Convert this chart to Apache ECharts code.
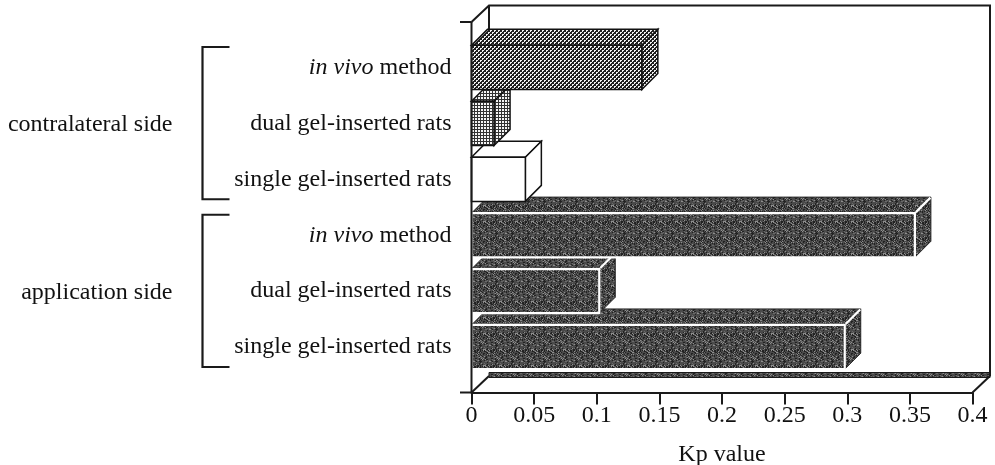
<!DOCTYPE html>
<html>
<head>
<meta charset="utf-8">
<script src="https://cdn.jsdelivr.net/npm/echarts@6/dist/echarts.min.js"></script>
<style>
  html, body { margin: 0; padding: 0; background: #fff; }
  #chart { width: 995px; height: 465px; }
</style>
</head>
<body>
<div id="chart"></div>
<script>
// ---- data ----
const groups = ['contralateral side', 'application side'];
const groupRanges = [[0, 2], [3, 5]];          // category indices covered by each group
const categories = [
  'in vivo method', 'dual gel-inserted rats', 'single gel-inserted rats',
  'in vivo method', 'dual gel-inserted rats', 'single gel-inserted rats'
];
const kpValues = [0.136, 0.018, 0.043, 0.354, 0.102, 0.298];
const xMin = 0, xMax = 0.4, xStep = 0.05;
const axisTitle = 'Kp value';

// ---- styling ----
const FONT = '"Liberation Serif", "Times New Roman", serif';
const FS = 24;
const INK = '#1a1a1a';
const BAR_DEPTH = 16;       // oblique depth of each bar (px)
const BOX_DX = 17.5, BOX_DY = 16.5;  // oblique depth of the frame box
const PAD = 17.5;           // frame extends this far past the category band

function tile(size, paint) {
  const c = document.createElement('canvas');
  c.width = c.height = size;
  const g = c.getContext('2d');
  paint(g, size);
  return { image: c, repeat: 'repeat' };
}
// dense dotted screen
const dotsFill = tile(4, (g) => {
  g.fillStyle = '#1e1e1e'; g.fillRect(0, 0, 4, 4);
  g.fillStyle = '#f2f2f2';
  g.fillRect(0, 0, 2, 1); g.fillRect(0, 1, 1, 1);
  g.fillRect(2, 2, 2, 1); g.fillRect(2, 3, 1, 1);
});
// fine grid
const gridFill = tile(3, (g) => {
  g.fillStyle = '#f5f5f5'; g.fillRect(0, 0, 3, 3);
  g.fillStyle = '#333'; g.fillRect(0, 0, 3, 1); g.fillRect(0, 0, 1, 3);
});
// dark stipple (fixed hashed tile)
const speckleFill = tile(16, (g, n) => {
  g.fillStyle = '#4a4a4a'; g.fillRect(0, 0, n, n);
  for (let y = 0; y < n; y++) {
    for (let x = 0; x < n; x++) {
      let h = ((x + 1) * 73856093) ^ ((y + 1) * 19349663);
      h = (h ^ (h >>> 13)) >>> 0;
      const k = h % 9;
      if (k === 0) { g.fillStyle = '#8e8e8e'; g.fillRect(x, y, 1, 1); }
      else if (k === 1 || k === 2) { g.fillStyle = '#222'; g.fillRect(x, y, 1, 1); }
      else if (k === 3) { g.fillStyle = '#6a6a6a'; g.fillRect(x, y, 1, 1); }
    }
  }
});
const barFills = [dotsFill, gridFill, '#ffffff', speckleFill, speckleFill, speckleFill];
const barSolid = [false, false, false, true, true, true];

const chart = echarts.init(document.getElementById('chart'), null, { renderer: 'canvas' });

function line(points, stroke, width, z2) {
  return { type: 'polyline', z2: z2 || 0, shape: { points },
    style: { stroke, lineWidth: width, fill: null, lineJoin: 'miter' } };
}

function renderBar(params, api) {
  const i = params.dataIndex;
  const v = api.value(0), c = api.value(1);
  const p0 = api.coord([0, c]);
  const p1 = api.coord([v, c]);
  const band = api.size([0, 1])[1];
  const h = band * 0.79;
  const x0 = p0[0], x1 = p1[0];
  const yT = p1[1] - h / 2, yB = p1[1] + h / 2;
  const d = BAR_DEPTH;
  const fill = barFills[i];
  const base = (categories.length - i) * 10;
  const solid = barSolid[i];
  const edge = solid ? '#222' : '#111';
  const top = { type: 'polygon', z2: base + 1,
    shape: { points: [[x0, yT], [x0 + d, yT - d], [x1 + d, yT - d], [x1, yT]] },
    style: { fill, stroke: edge, lineWidth: solid ? 1 : 1.5, lineJoin: 'miter' } };
  const side = { type: 'polygon', z2: base + 2,
    shape: { points: [[x1, yT], [x1 + d, yT - d], [x1 + d, yB - d], [x1, yB]] },
    style: { fill, stroke: edge, lineWidth: solid ? 1 : 1.5, lineJoin: 'miter' } };
  const front = { type: 'polygon', z2: base + 3,
    shape: { points: [[x0, yT], [x1, yT], [x1, yB], [x0, yB]] },
    style: { fill, stroke: solid ? '#ffffff' : edge, lineWidth: solid ? 2.2 : 1.5, lineJoin: 'miter' } };
  const children = [top, side, front];
  if (solid) {
    children.push(line([[x1 + 1, yT - 1], [x1 + d - 0.5, yT - d + 0.5]], '#ffffff', 2.2, base + 4));
  }
  return { type: 'group', children };
}

function frameGeom(params) {
  const cs = params.coordSys;
  const x0 = cs.x, x1 = cs.x + cs.width;
  const fTop = cs.y - PAD, fBot = cs.y + cs.height + PAD;
  return { cs, x0, x1, fTop, fBot, bTop: fTop - BOX_DY, bBot: fBot - BOX_DY };
}

function renderFrameBack(params, api) {
  const g = frameGeom(params);
  const bx0 = g.x0 + BOX_DX, bx1 = g.x1 + BOX_DX;
  return { type: 'group', children: [
    { type: 'rect', shape: { x: bx0, y: g.bBot - 3.5, width: bx1 - bx0, height: 5 },
      style: { fill: speckleFill, stroke: INK, lineWidth: 1 } },
    line([[g.x0, g.fTop], [bx0, g.bTop], [bx1, g.bTop], [bx1, g.bBot]], INK, 2),
    line([[bx0, g.bTop], [bx0, g.cs.y]], INK, 2),
    line([[g.x0, g.fBot], [bx0, g.bBot]], INK, 2),
    line([[g.x1, g.fBot], [bx1, g.bBot]], INK, 2)
  ] };
}

function renderFrameFront(params, api) {
  const g = frameGeom(params);
  return { type: 'group', children: [
    line([[g.x0, g.fTop], [g.x0, g.fBot]], INK, 2),
    line([[g.x0 - 11.5, g.fTop], [g.x0, g.fTop]], INK, 2),
    line([[g.x0 - 11.5, g.fBot], [g.x0, g.fBot]], INK, 2)
  ] };
}

function renderGroup(params, api) {
  const i = params.dataIndex;
  const r = groupRanges[i];
  const band = api.size([0, 1])[1];
  const yA = api.coord([0, r[0]])[1] - band / 2 + 7.5;
  const yB = api.coord([0, r[1]])[1] + band / 2 - 8;
  const bx = 202.5, arm = 27;
  return { type: 'group', children: [
    line([[bx + arm, yA], [bx, yA], [bx, yB], [bx + arm, yB]], INK, 2.2),
    { type: 'text', x: 172.5, y: (yA + yB) / 2 + 2,
      style: { text: groups[i], fill: '#111', font: FS + 'px ' + FONT,
        align: 'right', verticalAlign: 'middle' } }
  ] };
}

const barData = kpValues.map((v, i) => [v, i]);

chart.setOption({
  animation: false,
  backgroundColor: '#ffffff',
  grid: { left: 471.5, right: 22.5, top: 39.5, bottom: 90, outerBoundsMode: 'none', containLabel: false },
  xAxis: {
    type: 'value', min: xMin, max: xMax, interval: xStep,
    position: 'bottom', offset: PAD,
    axisLine: { show: true, lineStyle: { color: INK, width: 2 } },
    axisTick: { show: true, length: 12, lineStyle: { color: INK, width: 2 } },
    axisLabel: { margin: 11, color: '#111', fontFamily: FONT, fontSize: FS, showMinLabel: true, showMaxLabel: true, hideOverlap: false },
    splitLine: { show: false },
    name: axisTitle, nameLocation: 'middle', nameGap: 50,
    nameTextStyle: { color: '#111', fontFamily: FONT, fontSize: FS }
  },
  yAxis: {
    type: 'category', data: categories, inverse: true,
    axisLine: { show: false }, axisTick: { show: false }, splitLine: { show: false },
    axisLabel: {
      margin: 20, color: '#111', fontFamily: FONT, fontSize: FS, interval: 0,
      formatter: function (name) {
        const m = /^in vivo (.*)$/.exec(name);
        return m ? '{it|in vivo} {rm|' + m[1] + '}' : '{rm|' + name + '}';
      },
      rich: {
        it: { fontStyle: 'italic', fontFamily: FONT, fontSize: FS, color: '#111' },
        rm: { fontFamily: FONT, fontSize: FS, color: '#111' }
      }
    }
  },
  series: [
    { type: 'custom', name: 'frame-back', z: 1, silent: true, renderItem: renderFrameBack,
      data: [[0, 0]], encode: { x: 0, y: 1 } },
    { type: 'custom', name: 'Kp', z: 2, renderItem: renderBar,
      data: barData, encode: { x: 0, y: 1 } },
    { type: 'custom', name: 'frame-front', z: 3, silent: true, renderItem: renderFrameFront,
      data: [[0, 0]], encode: { x: 0, y: 1 } },
    { type: 'custom', name: 'groups', z: 3, silent: true, renderItem: renderGroup,
      data: groups.map((g, i) => [0, groupRanges[i][0]]), encode: { x: 0, y: 1 } }
  ]
});
</script>
</body>
</html>
